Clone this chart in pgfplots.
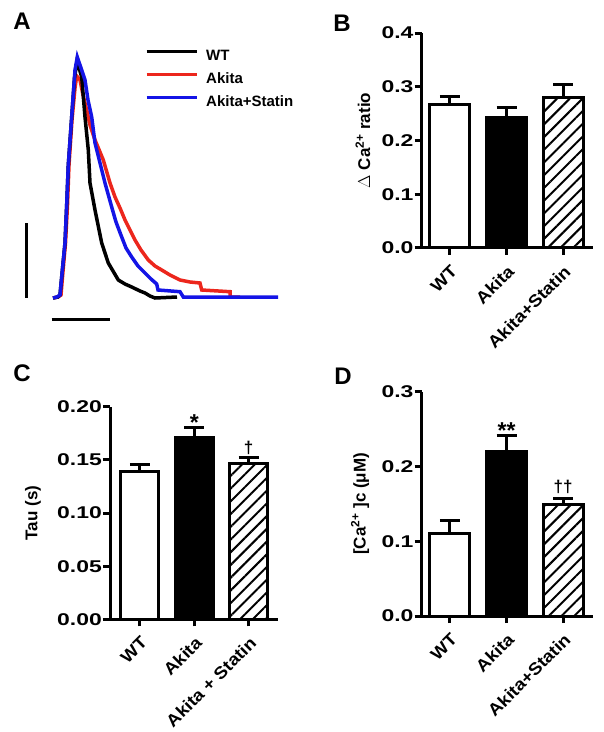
\documentclass[border=0pt]{standalone}
\usepackage{fontspec}
\setmainfont{Liberation Sans}
\newfontfamily\ytickfont[FakeStretch=1.35]{Liberation Sans}
\newfontfamily\xtickfont[FakeStretch=1.1]{Liberation Sans}
\usepackage{pgfplots}
\pgfplotsset{compat=1.18}
\usetikzlibrary{patterns.meta}
\definecolor{akred}{RGB}{236,38,28}
\definecolor{stblue}{RGB}{20,20,230}
\newcommand{\yf}{\fontsize{17}{20}\selectfont\ytickfont\bfseries}
\newcommand{\xf}{\fontsize{17}{20}\selectfont\xtickfont\bfseries}
\newcommand{\lf}{\fontsize{17}{20}\selectfont\bfseries}
\newcommand{\stf}{\fontsize{23}{26}\selectfont\bfseries}
\newcommand{\gf}{\fontsize{15}{18}\selectfont\bfseries}
\newcommand{\pf}{\fontsize{24}{28}\selectfont\bfseries}
\pgfplotsset{
  barax/.style={
    scale only axis, anchor=south west,
    axis lines=left,
    axis line style={-, line width=3pt},
    every tick/.style={black, line width=3pt},
    tick align=outside,
    major tick length=7pt,
    xtick={0,1,2},
    ymin=0, clip=false,
    /pgf/number format/assume math mode=true,
    yticklabel style={font=\yf, /pgf/number format/.cd, fixed, fixed zerofill, precision=1, /tikz/.cd, inner sep=1pt},
    xticklabel style={font=\xf, rotate=45, anchor=north east, inner sep=0pt},
    xticklabel shift=9pt,
    ylabel style={font=\lf, anchor=center},
    ybar,
  },
  eb/.style={error bars/.cd, y dir=plus, y explicit,
    error bar style={line width=3pt, black},
    error mark options={rotate=90, mark size=10pt, line width=3pt, black}},
  wbar/.style={draw=black, fill=white, line width=3pt, bar shift=0pt, eb},
  bbar/.style={draw=black, fill=black, line width=3pt, bar shift=0pt, eb},
  hbar/.style={draw=black, line width=3pt, bar shift=0pt,
    pattern={Lines[angle=45, distance=9pt, line width=2pt]}, eb},
}
\begin{document}
\begin{tikzpicture}
\path[use as bounding box] (0,0) rectangle (604pt,732pt);

% ---------------- Panel A: traces ----------------
\begin{axis}[at={(0pt,392pt)}, anchor=south west, scale only axis,
  width=300pt, height=340pt, xmin=0, xmax=300, ymin=0, ymax=340,
  y dir=reverse, hide axis, clip=false,
  legend style={at={(axis description cs:0.4833,0.854)}, anchor=north west,
    draw=none, fill=none, font=\gf, row sep=9pt, column sep=8pt, inner sep=0pt,
    nodes={inner sep=0pt, text height=11pt, text depth=3pt}},
  legend cell align=left,
  legend image code/.code={\draw[#1] (0pt,5pt) -- (50pt,5pt);}]
\addlegendimage{black, line width=3pt}\addlegendentry{WT}
\addlegendimage{akred, line width=3pt}\addlegendentry{Akita}
\addlegendimage{stblue, line width=3pt}\addlegendentry{Akita+Statin}
% Akita (red)
\addplot[akred, line width=3.5pt, forget plot] coordinates {
(53,298) (58,297) (61,295) (62.5,277) (65.5,243) (67.5,205) (69,165) (72,120) (75,88) (76.7,76)
(80,80) (83,95) (86.7,110) (90,125) (95,140) (100,152) (103.3,160) (110,183) (115,197)
(120,208) (125,220) (130,230) (135,240) (141,250) (148.3,260) (155,266) (161.7,270)
(170,275) (180,280) (190,282) (200,283) (201.7,290) (230,291.7) (230,297) (240,297)};
% WT (black)
\addplot[black, line width=3.5pt, forget plot] coordinates {
(53,298) (58,297) (60,295) (61.7,277) (65,243) (66.7,205) (68.3,165) (71.7,117) (74.5,78) (77,61)
(81.7,77) (85,117) (88.3,150) (90,183) (95,210) (101.7,243) (108.3,263) (118.3,280)
(125,284) (131.7,287) (140,291) (145,293) (150,296) (155,298) (177,297)};
% Akita+Statin (blue)
\addplot[stblue, line width=3.5pt, forget plot] coordinates {
(53,298) (57,297) (60,295) (61.7,277) (65,243) (66.7,205) (68.3,165) (71.7,117) (75,70) (77.3,57)
(81,68) (85,80) (88,100) (91.7,117) (95,143) (100,163) (105,183) (111.7,207) (116,222)
(121.7,237) (126,248) (131.7,257) (138,266) (145,273) (151,279) (156.7,284) (158,290)
(180,291.7) (183.3,297) (278,297)};
% scale bars
\addplot[black, line width=3pt, forget plot] coordinates {(26.7,223) (26.7,298)};
\addplot[black, line width=3pt, forget plot] coordinates {(51.7,319.3) (110,319.3)};
\end{axis}

% ---------------- Panel B ----------------
\begin{axis}[barax, at={(421.7pt,484pt)}, width=171.3pt, height=215pt,
  bar width=40pt, xmin=-0.5, xmax=2.53, ymax=0.4,
  ytick={0,0.1,0.2,0.3,0.4},
  xticklabels={WT,Akita,Akita+Statin},
  ylabel={$\Delta$ Ca\textsuperscript{2+} ratio},
  ylabel style={at={(axis description cs:-0.343,0.5)}}]
\addplot[wbar] coordinates {(0,0.267) +- (0,0.015)};
\addplot[bbar] coordinates {(1,0.243) +- (0,0.019)};
\addplot[hbar] coordinates {(2,0.280) +- (0,0.025)};
\end{axis}

% ---------------- Panel C ----------------
\begin{axis}[barax, at={(110pt,112.7pt)}, width=168pt, height=212.6pt,
  bar width=38pt, xmin=-0.55, xmax=2.54, ymax=0.2,
  ytick={0,0.05,0.1,0.15,0.2},
  yticklabel style={/pgf/number format/precision=2},
  xticklabels={WT,Akita,Akita + Statin},
  ylabel={Tau (s)},
  ylabel style={at={(axis description cs:-0.458,0.5)}}]
\addplot[wbar] coordinates {(0,0.139) +- (0,0.0066)};
\addplot[bbar] coordinates {(1,0.171) +- (0,0.0096)};
\addplot[hbar] coordinates {(2,0.1468) +- (0,0.0056)};
\node[font=\stf, anchor=base, inner sep=0pt] at (axis cs:1,0.1774) {*};
\node[font=\lf, anchor=base, inner sep=0pt] at (axis cs:2,0.156) {†};
\end{axis}

% ---------------- Panel D ----------------
\begin{axis}[barax, at={(421.7pt,116pt)}, width=171.3pt, height=224.3pt,
  bar width=40pt, xmin=-0.5, xmax=2.53, ymax=0.3,
  ytick={0,0.1,0.2,0.3},
  xticklabels={WT,Akita,Akita+Statin},
  ylabel={[Ca\textsuperscript{2+} ]c (μM)},
  ylabel style={at={(axis description cs:-0.360,0.5)}}]
\addplot[wbar] coordinates {(0,0.1106) +- (0,0.017)};
\addplot[bbar] coordinates {(1,0.2198) +- (0,0.021)};
\addplot[hbar] coordinates {(2,0.1485) +- (0,0.009)};
\node[font=\stf, anchor=base, inner sep=0pt] at (axis cs:1,0.238) {**};
\node[font=\lf, anchor=base, inner sep=0pt] at (axis cs:2,0.165) {††};
\end{axis}

% panel letters
\node[font=\pf] at (22pt,710.5pt) {A};
\node[font=\pf] at (342pt,708.5pt) {B};
\node[font=\pf] at (22pt,359pt) {C};
\node[font=\pf] at (343pt,355.5pt) {D};
\end{tikzpicture}
\end{document}
